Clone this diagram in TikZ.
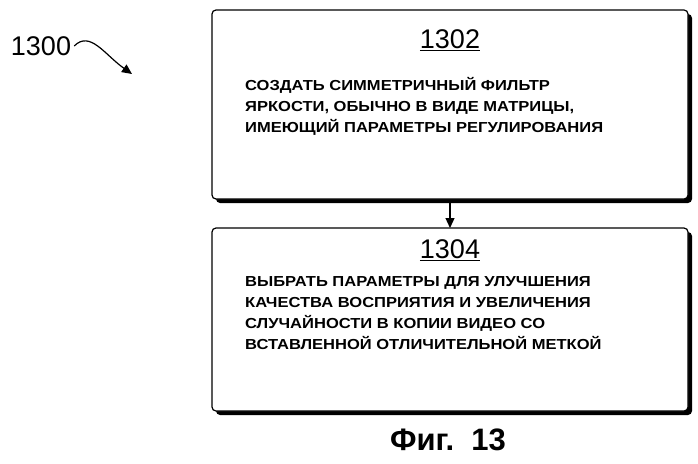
\documentclass[tikz,border=0pt]{standalone}
\usepackage{fontspec}
\setmainfont{Liberation Sans}
\newfontfamily\bodyf[FakeStretch=1.14]{Liberation Sans}
\usetikzlibrary{arrows.meta}
\begin{document}
\begin{tikzpicture}[x=1pt,y=-1pt,
  shadowbox/.style={fill=black,rounded corners=4pt},
  mainbox/.style={draw,line width=1.2pt,fill=white,rounded corners=4pt},
  body/.style={anchor=north west,align=left,inner sep=0pt,font=\bodyf\bfseries\fontsize{14.5}{21}\selectfont},
  num/.style={font=\fontsize{27}{27}\selectfont}]
\useasboundingbox (0,0) rectangle (698,463);
% box 1
\fill[shadowbox] (216,14) rectangle (692,203);
\draw[mainbox] (212,10) rectangle (688,199);
\node[num] (n1) at (450,40) {\underline{1302}};
\node[body] (t1) at (245,77) {СОЗДАТЬ СИММЕТРИЧНЫЙ ФИЛЬТР\\ЯРКОСТИ, ОБЫЧНО В ВИДЕ МАТРИЦЫ,\\ИМЕЮЩИЙ ПАРАМЕТРЫ РЕГУЛИРОВАНИЯ};
% box 2
\fill[shadowbox] (216,232) rectangle (692,415);
\draw[mainbox] (212,228) rectangle (688,411);
\node[num] (n2) at (450,250) {\underline{1304}};
\node[body] (t2) at (245,276) {ВЫБРАТЬ ПАРАМЕТРЫ ДЛЯ УЛУЧШЕНИЯ\\КАЧЕСТВА ВОСПРИЯТИЯ И УВЕЛИЧЕНИЯ\\СЛУЧАЙНОСТИ В КОПИИ ВИДЕО СО\\ВСТАВЛЕННОЙ ОТЛИЧИТЕЛЬНОЙ МЕТКОЙ};
\coordinate (a1) at (450,203);
\coordinate (a2) at (450,228);
\draw[line width=1.2pt,-{Triangle[length=10pt,width=9pt]}] (a1) -- (a2);
% label 1300
\node[font=\fontsize{27}{27}\selectfont,inner sep=3pt] (l) at (41,46) {1300};
\coordinate (c1) at (132,74);
\draw[line width=1.2pt,-{Triangle[length=10pt,width=9pt]}] (l.east) .. controls (90,30) and (105,55) .. (c1);
\node[font=\bfseries\fontsize{31}{31}\selectfont] (f) at (448,440) {Фиг.~~13};
\end{tikzpicture}
\end{document}
